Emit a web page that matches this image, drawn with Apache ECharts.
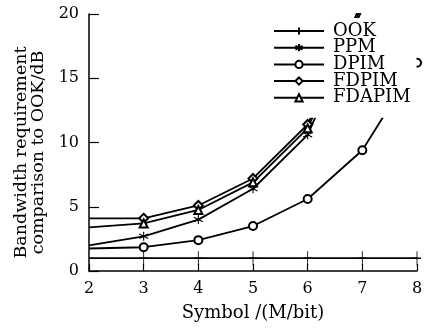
<!DOCTYPE html>
<html>
<head>
<meta charset="utf-8">
<script src="https://cdn.jsdelivr.net/npm/echarts@6/dist/echarts.min.js"></script>
<style>
  html, body { margin: 0; padding: 0; background: #fff; }
  #chart { width: 432px; height: 328px; }
</style>
</head>
<body>
<div id="chart"></div>
<script>
// symbol sizes (M/bit)
const xs = [2, 3, 4, 5, 6, 7, 8];
// bandwidth requirement vs OOK (dB)
const ook = [1, 1, 1, 1, 1, 1, 1];
const ppm = [2.0, 2.7, 4.0, 6.4, 10.6, 20.4];
const dpim = [1.75, 1.85, 2.4, 3.5, 5.6, 9.4, 16.2];
const fdpim = [4.1, 4.1, 5.1, 7.2, 11.4, 21.0];
const fdapim = [3.4, 3.7, 4.75, 6.9, 11.1, 20.7];
const yTicks = [0, 5, 10, 15, 20];

const font = 'DejaVu Serif';

// pair values with x, hide marker at x = 2 (sits on the axis)
function pts(vals) {
    return vals.map(function (v, i) {
        const item = { value: [xs[i], v] };
        if (i === 0) item.symbol = 'none';
        return item;
    });
}

function line(name, vals, symbol, size) {
    return {
        name: name,
        type: 'line',
        data: pts(vals),
        symbol: symbol,
        symbolSize: size,
        showAllSymbol: true,
        clip: true,
        lineStyle: { color: '#000', width: 1.8 },
        itemStyle: { color: '#000', borderColor: '#000', borderWidth: 1.1 },
        emphasis: { disabled: true }
    };
}

const chart = echarts.init(document.getElementById('chart'));
chart.setOption({
    animation: false,
    backgroundColor: '#fff',
    grid: { left: 89, right: 15, top: 14, bottom: 57 },
    legend: {
        orient: 'vertical',
        left: 268,
        top: 18,
        padding: [4, 6, 11, 5],
        backgroundColor: '#fff',
        itemWidth: 50,
        itemHeight: 9,
        itemGap: -1.3,
        textStyle: { fontFamily: font, fontSize: 18, color: '#000', padding: [0, 0, 0, 4] },
        data: ['OOK', 'PPM', 'DPIM', 'FDPIM', 'FDAPIM']
    },
    xAxis: {
        type: 'value',
        min: 2,
        max: 8,
        interval: 1,
        name: 'Symbol /(M/bit)',
        nameLocation: 'middle',
        nameGap: 33,
        nameTextStyle: { fontFamily: font, fontSize: 18, color: '#000' },
        axisLine: { lineStyle: { color: '#000', width: 1.5 } },
        axisTick: { inside: true, length: 7, lineStyle: { color: '#000', width: 1.2 } },
        axisLabel: { fontFamily: font, fontSize: 16, color: '#000', margin: 10 },
        splitLine: { show: false }
    },
    yAxis: {
        type: 'value',
        min: yTicks[0],
        max: yTicks[yTicks.length - 1],
        interval: 5,
        name: 'Bandwidth requirement\ncomparison to OOK/dB',
        nameLocation: 'middle',
        nameGap: 39,
        nameTextStyle: { fontFamily: font, fontSize: 17.5, color: '#000', lineHeight: 17, padding: [0, 20, 0, 0] },
        axisLine: { show: true, lineStyle: { color: '#000', width: 1.5 } },
        axisTick: { show: true, inside: true, length: 10, lineStyle: { color: '#000', width: 1.2 } },
        axisLabel: { fontFamily: font, fontSize: 16, color: '#000', margin: 10 },
        splitLine: { show: false }
    },
    series: [
        line('OOK', ook, 'path://M0,-1L0,1M-0.6,0L0.6,0', [8, 14]),
        line('PPM', ppm, 'path://M0,-1L0,1M-0.87,-0.5L0.87,0.5M-0.87,0.5L0.87,-0.5', 9),
        line('DPIM', dpim, 'emptyCircle', 8),
        line('FDPIM', fdpim, 'emptyDiamond', 9),
        line('FDAPIM', fdapim, 'emptyTriangle', 8)
    ]
});
</script>
</body>
</html>
